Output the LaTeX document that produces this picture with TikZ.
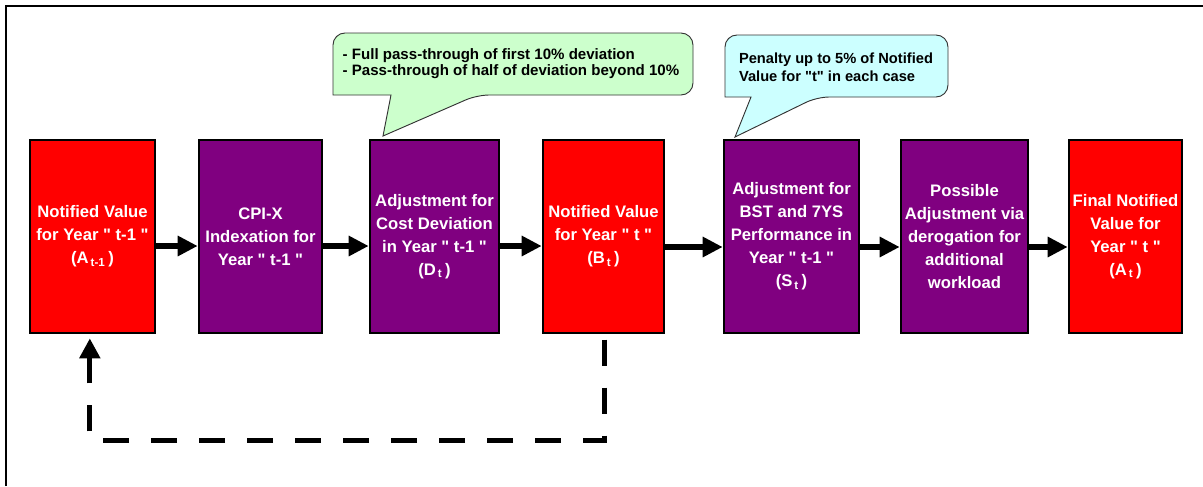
\documentclass[tikz,border=0pt]{standalone}
\usepackage{fontspec}
\setmainfont{Liberation Sans}[Ligatures=TeXOff]
\usetikzlibrary{arrows.meta}
\definecolor{boxred}{HTML}{FF0000}
\definecolor{boxpurple}{HTML}{800080}
\definecolor{calgreen}{HTML}{CCFFCC}
\definecolor{calcyan}{HTML}{CCFFFF}
\newcommand{\dq}{\symbol{34}}
\begin{document}
\begin{tikzpicture}[x=0.75pt,y=-0.75pt,
  box/.style={draw=black, line width=2pt, minimum height=144.75pt, inner sep=0pt,
    text=white, font=\bfseries\fontsize{12.5}{17.3}\selectfont, align=center},
  redbox/.style={box, fill=boxred},
  purplebox/.style={box, fill=boxpurple},
  flow/.style={line width=4.5pt, -{Triangle[length=15pt,width=14.5pt]}},
  feedback/.style={line width=3.75pt, dash pattern=on 20pt off 16pt,
    -{Triangle[length=15pt,width=15pt]}},
  callout/.style={draw=black!80, line width=0.7pt},
  calltext/.style={font=\bfseries\fontsize{11.3}{12}\selectfont, align=left, inner sep=0pt}
]
\useasboundingbox (0,0) rectangle (1203,486);
% frame
\draw[line width=1.5pt] (6,486) -- (6,6) -- (1203,6);

% boxes
\node[redbox, minimum width=93.75pt] (b1) at (92.5,236.5)
  {Notified Value\\for Year \dq{} t-1 \dq\\(A\textsubscript{\,t-1}\,)};
\node[purplebox, minimum width=92.25pt] (b2) at (260.5,236.5)
  {CPI-X\\Indexation for\\Year \dq{} t-1 \dq};
\node[purplebox, minimum width=96.75pt] (b3) at (434.5,236.5)
  {Adjustment for\\Cost Deviation\\in Year \dq{} t-1 \dq\\(D\textsubscript{\,t}\,)};
\node[redbox, minimum width=90.75pt] (b4) at (603.5,236.5)
  {Notified Value\\for Year \dq{} t \dq\\(B\textsubscript{\,t}\,)};
\node[purplebox, minimum width=101.25pt] (b5) at (791.5,236.5)
  {Adjustment for\\BST and 7YS\\Performance in\\Year \dq{} t-1 \dq\\(S\textsubscript{\,t}\,)};
\node[purplebox, minimum width=95.25pt] (b6) at (964.5,236.5)
  {Possible\\Adjustment via\\derogation for\\additional\\workload};
\node[redbox, minimum width=84.75pt] (b7) at (1125.5,236.5)
  {Final Notified\\Value for\\Year \dq{} t \dq\\(A\textsubscript{\,t}\,)};

% flow arrows
\draw[flow] (b1.east |- 0,246) -- (b2.west |- 0,246);
\draw[flow] (b2.east |- 0,246) -- (b3.west |- 0,246);
\draw[flow] (b3.east |- 0,246) -- (b4.west |- 0,246);
\draw[flow] (b4.east |- 0,247) -- (b5.west |- 0,247);
\draw[flow] (b5.east |- 0,247) -- (b6.west |- 0,247);
\draw[flow] (b6.east |- 0,247) -- (b7.west |- 0,247);

% feedback loop
\coordinate (fbstart) at ([xshift=1pt,yshift=-4pt]b4.south);
\coordinate (fbend) at ([xshift=-2pt,yshift=-3pt]b1.south);
\draw[feedback] (fbstart) -- (fbstart |- 0,440) -- (fbend |- 0,440) -- (fbend);

% callout 1
\draw[callout, fill=calgreen] (333,64) [rounded corners=9pt] -- (333,33) -- (693,33) -- (693,95)
  -- (477,95) [sharp corners] -- (383,136) -- (391,95) -- (333,95) [rounded corners=9pt] -- cycle;
\node[calltext] (t1) at (511,63.5)
  {- Full pass-through of first 10\% deviation\\- Pass-through of half of deviation beyond 10\%};

% callout 2
\draw[callout, fill=calcyan] (725,66) [rounded corners=9pt] -- (725,35) -- (948,35) -- (948,97)
  -- (817,97) [sharp corners] -- (735,137) -- (751,97) -- (725,97) [rounded corners=9pt] -- cycle;
\node[calltext, font=\bfseries\fontsize{11}{13.5}\selectfont] (t2) at (836,67)
  {Penalty up to 5\% of Notified\\Value for \dq{}t\dq{} in each case};
\end{tikzpicture}
\end{document}
